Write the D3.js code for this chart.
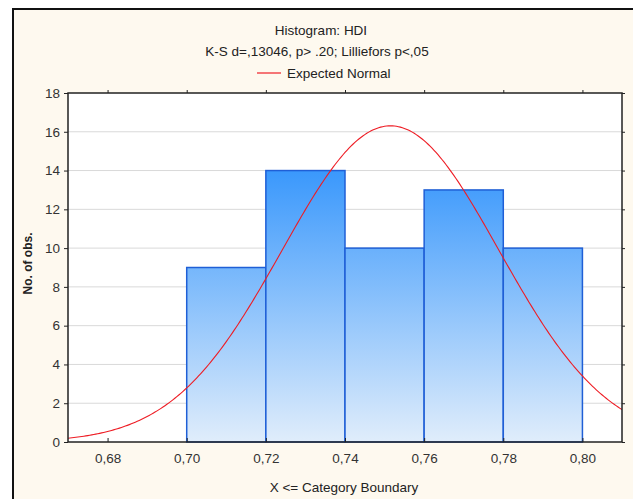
<!DOCTYPE html>
<html><head><meta charset="utf-8">
<script src="https://cdn.jsdelivr.net/npm/d3@7"></script>
<style>body{margin:0;background:#fff;}svg{display:block;font-family:"Liberation Sans",Arial,sans-serif;}</style>
</head><body>
<script>
// ---- data ----
const binStarts = [0.70, 0.72, 0.74, 0.76, 0.78];
const binEnds   = [0.72, 0.74, 0.76, 0.78, 0.80];
const counts    = [9, 14, 10, 13, 10];
const xTicks    = [0.68, 0.70, 0.72, 0.74, 0.76, 0.78, 0.80];
const yTicks    = [0, 2, 4, 6, 8, 10, 12, 14, 16, 18];
const normalMean = 0.7515;
const normalSd   = 0.0274;
const binWidth   = 0.02;
const title    = "Histogram: HDI";
const subtitle = "K-S d=,13046, p> .20; Lilliefors p<,05";
const legendLabel = "Expected Normal";
const xLabel = "X <= Category Boundary";
const yLabel = "No. of obs.";

const W = 633, H = 499;
const m = {l: 68, r: 11, t: 93, b: 57};
const FS = 13.5;
const svg = d3.select("body").append("svg").attr("width", W).attr("height", H);

// frame
svg.append("rect").attr("x", 0).attr("y", 0).attr("width", W).attr("height", H).attr("fill", "#fff");
svg.append("rect").attr("x", 13).attr("y", 9).attr("width", W).attr("height", H).attr("fill", "#fef9ef");
svg.append("path").attr("d", `M13,${H} L13,9 L${W},9`).attr("fill", "none").attr("stroke", "#111").attr("stroke-width", 2);

const x = d3.scaleLinear().domain([0.67, 0.81]).range([m.l, W - m.r]);
const y = d3.scaleLinear().domain([0, 18]).range([H - m.b, m.t]);

// plot background
svg.append("rect").attr("x", m.l).attr("y", m.t).attr("width", x.range()[1] - m.l).attr("height", y(0) - m.t).attr("fill", "#fff");

// gridlines
svg.append("g").selectAll("line").data(yTicks.slice(1, -1)).join("line")
  .attr("x1", m.l).attr("x2", x.range()[1]).attr("y1", d => y(d)).attr("y2", d => y(d))
  .attr("stroke", "#d9d9d9").attr("stroke-width", 1);

// gradient
const defs = svg.append("defs");
const grad = defs.append("linearGradient").attr("id", "barGrad")
  .attr("gradientUnits", "userSpaceOnUse").attr("x1", 0).attr("x2", 0)
  .attr("y1", y(14)).attr("y2", y(0));
grad.append("stop").attr("offset", "0%").attr("stop-color", "#3a98fc");
grad.append("stop").attr("offset", "100%").attr("stop-color", "#e0edfb");

// bars
svg.append("g").selectAll("rect").data(counts).join("rect")
  .attr("x", (d, i) => x(binStarts[i]))
  .attr("y", d => y(d))
  .attr("width", (d, i) => x(binEnds[i]) - x(binStarts[i]))
  .attr("height", d => y(0) - y(d))
  .attr("fill", "url(#barGrad)")
  .attr("stroke", "#1f5fd6").attr("stroke-width", 1.5);

// expected normal curve
const nTotal = d3.sum(counts);
const pts = d3.range(0, 281).map(i => x.domain()[0] + i * (x.domain()[1] - x.domain()[0]) / 280);
const dens = v => nTotal * binWidth * Math.exp(-0.5 * ((v - normalMean) / normalSd) ** 2) / (normalSd * Math.sqrt(2 * Math.PI));
defs.append("clipPath").attr("id", "clip").append("rect")
  .attr("x", m.l).attr("y", m.t).attr("width", x.range()[1] - m.l).attr("height", y(0) - m.t);
svg.append("path").datum(pts).attr("clip-path", "url(#clip)")
  .attr("d", d3.line().x(d => x(d)).y(d => y(dens(d))))
  .attr("fill", "none").attr("stroke", "#ee1c24").attr("stroke-width", 1.1);

// axes
const fmtX = d => d.toFixed(2).replace(".", ",");
const axB = svg.append("g").attr("transform", `translate(0,${y(0)})`)
  .call(d3.axisBottom(x).tickValues(xTicks).tickFormat(fmtX).tickSizeInner(-4).tickSizeOuter(0).tickPadding(11));
const axL = svg.append("g").attr("transform", `translate(${m.l},0)`)
  .call(d3.axisLeft(y).tickValues(yTicks).tickSizeInner(4).tickSizeOuter(0).tickPadding(4));
const axT = svg.append("g").attr("transform", `translate(0,${m.t})`)
  .call(d3.axisTop(x).tickValues(xTicks).tickFormat("").tickSizeInner(3).tickSizeOuter(0));
const axR = svg.append("g").attr("transform", `translate(${x.range()[1]},0)`)
  .call(d3.axisRight(y).tickValues(yTicks).tickFormat("").tickSizeInner(3).tickSizeOuter(0));
[axB, axL, axT, axR].forEach(a => {
  a.select(".domain").remove();
  a.selectAll("line").attr("stroke", "#222");
  a.selectAll("text").attr("font-size", FS).attr("fill", "#333").attr("font-family", '"Liberation Sans",Arial,sans-serif');
});
// plot border
svg.append("rect").attr("x", m.l).attr("y", m.t).attr("width", x.range()[1] - m.l).attr("height", y(0) - m.t)
  .attr("fill", "none").attr("stroke", "#222").attr("stroke-width", 1.5);

// titles
svg.append("text").attr("x", 321).attr("y", 35).attr("text-anchor", "middle").attr("font-size", FS).attr("fill", "#222").text(title);
svg.append("text").attr("x", 317).attr("y", 56).attr("text-anchor", "middle").attr("font-size", FS).attr("fill", "#222").text(subtitle);
svg.append("line").attr("x1", 257).attr("x2", 281).attr("y1", 73).attr("y2", 73).attr("stroke", "#ee1c24").attr("stroke-width", 1.2);
svg.append("text").attr("x", 287).attr("y", 78).attr("font-size", FS).attr("fill", "#222").text(legendLabel);

svg.append("text").attr("x", 344).attr("y", 492).attr("text-anchor", "middle").attr("font-size", FS).attr("fill", "#222").text(xLabel);
svg.append("text").attr("transform", `translate(32,${(m.t + y(0)) / 2 - 4}) rotate(-90)`)
  .attr("text-anchor", "middle").attr("font-size", 12).attr("font-weight", "bold").attr("fill", "#222").text(yLabel);
</script>
</body></html>
